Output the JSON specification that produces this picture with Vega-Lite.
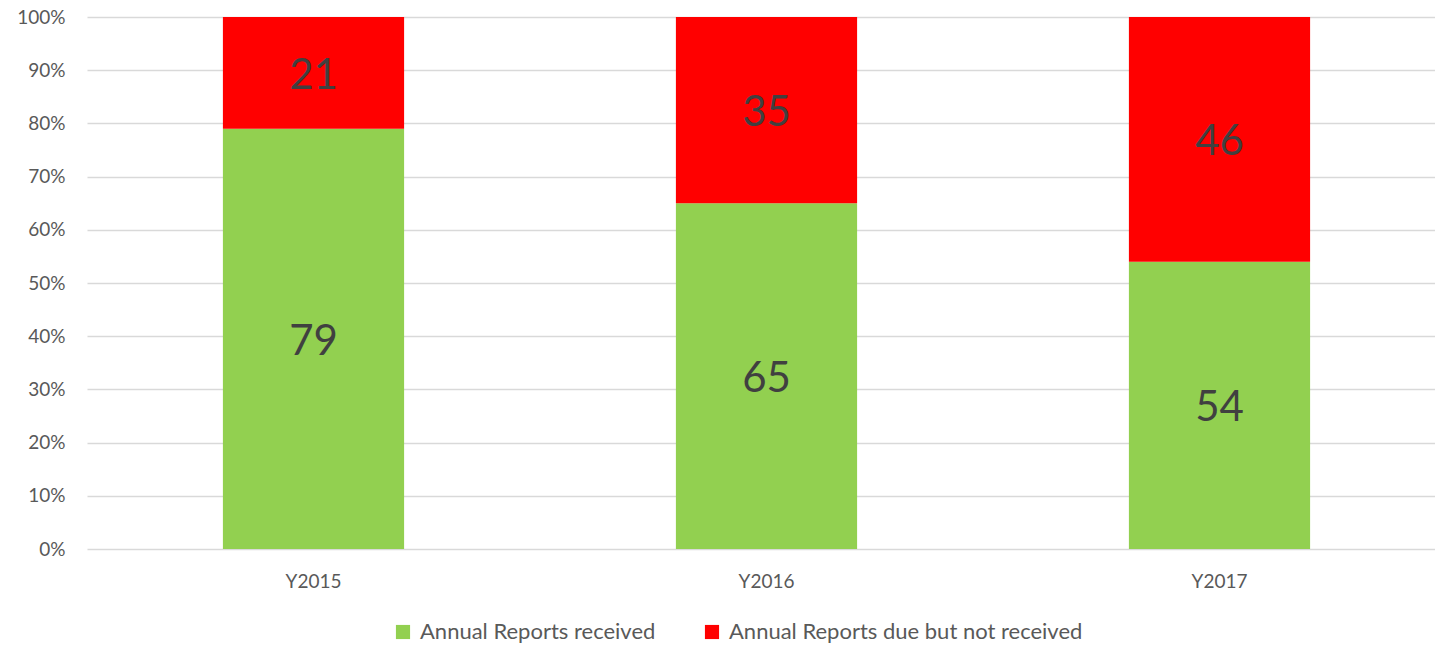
{
  "$schema": "https://vega.github.io/schema/vega-lite/v6.json",
  "width": 1359,
  "height": 532,
  "autosize": {"type": "none"},
  "padding": {"left": 87, "top": 17, "right": 0, "bottom": 96},
  "background": "white",
  "config": {
    "view": {"stroke": null},
    "font": "Lato",
    "axis": {"labelFont": "Lato", "labelColor": "#595959", "domain": false, "ticks": false}
  },
  "data": {
    "values": [
      {"year": "Y2015", "status": "Annual Reports received", "rank": 1, "value": 79},
      {"year": "Y2015", "status": "Annual Reports due but not received", "rank": 2, "value": 21},
      {"year": "Y2016", "status": "Annual Reports received", "rank": 1, "value": 65},
      {"year": "Y2016", "status": "Annual Reports due but not received", "rank": 2, "value": 35},
      {"year": "Y2017", "status": "Annual Reports received", "rank": 1, "value": 54},
      {"year": "Y2017", "status": "Annual Reports due but not received", "rank": 2, "value": 46}
    ]
  },
  "transform": [
    {"stack": "value", "groupby": ["year"], "sort": [{"field": "rank", "order": "ascending"}], "offset": "normalize", "as": ["y0", "y1"]},
    {"calculate": "(datum.y0 + datum.y1) / 2", "as": "ymid"}
  ],
  "encoding": {
    "x": {
      "field": "year", "type": "nominal", "title": null,
      "scale": {"paddingInner": 0.6, "paddingOuter": 0.3},
      "axis": {"labelAngle": 0, "labelFontSize": 19, "labelPadding": 23, "grid": false}
    }
  },
  "layer": [
    {
      "mark": {"type": "bar"},
      "encoding": {
        "y": {
          "field": "y0", "type": "quantitative", "title": null,
          "scale": {"domain": [0, 1]},
          "axis": {"format": "%", "values": [0,0.1,0.2,0.3,0.4,0.5,0.6,0.7,0.8,0.9,1], "labelFontSize": 19, "labelPadding": 22, "gridColor": "#D9D9D9", "gridWidth": 1.5}
        },
        "y2": {"field": "y1"},
        "color": {
          "field": "status", "type": "nominal",
          "scale": {"domain": ["Annual Reports received", "Annual Reports due but not received"], "range": ["#92D050", "#FF0000"]},
          "legend": {
            "title": null, "orient": "none", "direction": "horizontal",
            "legendX": 305, "legendY": 604,
            "symbolType": "square", "symbolSize": 200, "symbolStrokeWidth": 0,
            "labelFontSize": 22, "labelColor": "#595959", "labelFont": "Lato", "labelLimit": 0,
            "columnPadding": 45, "labelOffset": 6, "padding": 0
          }
        }
      }
    },
    {
      "mark": {"type": "text", "fontSize": 42, "color": "#404040", "baseline": "middle", "dy": 3},
      "encoding": {
        "y": {"field": "ymid", "type": "quantitative"},
        "text": {"field": "value", "type": "quantitative"}
      }
    }
  ]
}
